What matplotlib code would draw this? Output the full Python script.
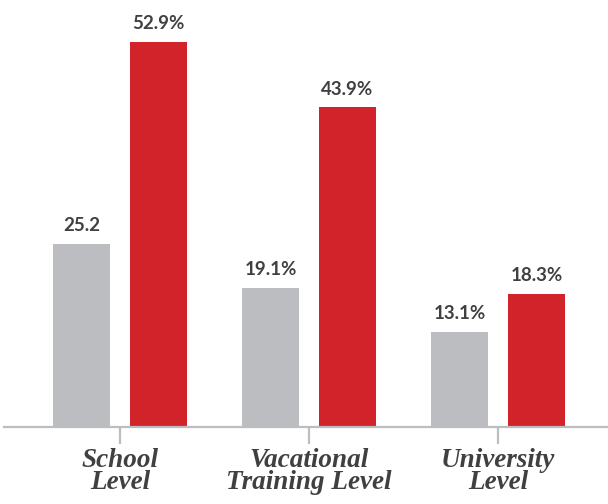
import numpy as np
import matplotlib.pyplot as plt

# data
categories = ["School\nLevel", "Vacational\nTraining Level", "University\nLevel"]
grey_vals = [25.2, 19.1, 13.1]
red_vals = [52.9, 43.9, 18.3]
grey_labels = ["25.2", "19.1%", "13.1%"]
red_labels = ["52.9%", "43.9%", "18.3%"]

GREY = "#BCBDC0"
RED = "#D2232A"
TEXT = "#404040"

fig = plt.figure(figsize=(6.08, 5.04), dpi=100)
ax = fig.add_axes([4 / 608, 77 / 504, 604 / 608, 427 / 504])

x = np.arange(len(categories))
w = 0.3016
off = 0.2037
ax.bar(x - off, grey_vals, w, color=GREY)
ax.bar(x + off, red_vals, w, color=RED)

for xi, v, s in zip(x - off, grey_vals, grey_labels):
    ax.annotate(s, (xi, v), xytext=(0, 7), textcoords="offset points",
                ha="center", va="bottom", fontsize=13.5, fontweight="bold",
                family="Lato", color=TEXT)
for xi, v, s in zip(x + off, red_vals, red_labels):
    ax.annotate(s, (xi, v), xytext=(0, 7), textcoords="offset points",
                ha="center", va="bottom", fontsize=13.5, fontweight="bold",
                family="Lato", color=TEXT)

ax.set_xlim(-0.614, 2.582)
ax.set_ylim(0, 58.65)

for sp in ["top", "right", "left"]:
    ax.spines[sp].set_visible(False)
ax.spines["bottom"].set_color(GREY)
ax.spines["bottom"].set_linewidth(1.6)
ax.set_yticks([])
ax.set_xticks(x)
ax.set_xticklabels(categories)
for lab in ax.get_xticklabels():
    lab.set_fontfamily("Liberation Serif")
    lab.set_fontweight("bold")
    lab.set_fontstyle("italic")
    lab.set_fontsize(19.5)
    lab.set_color(TEXT)
    lab.set_linespacing(0.86)
ax.tick_params(axis="x", length=12, width=1.6, color=GREY, pad=3)

fig.savefig("out.png", dpi=100)
